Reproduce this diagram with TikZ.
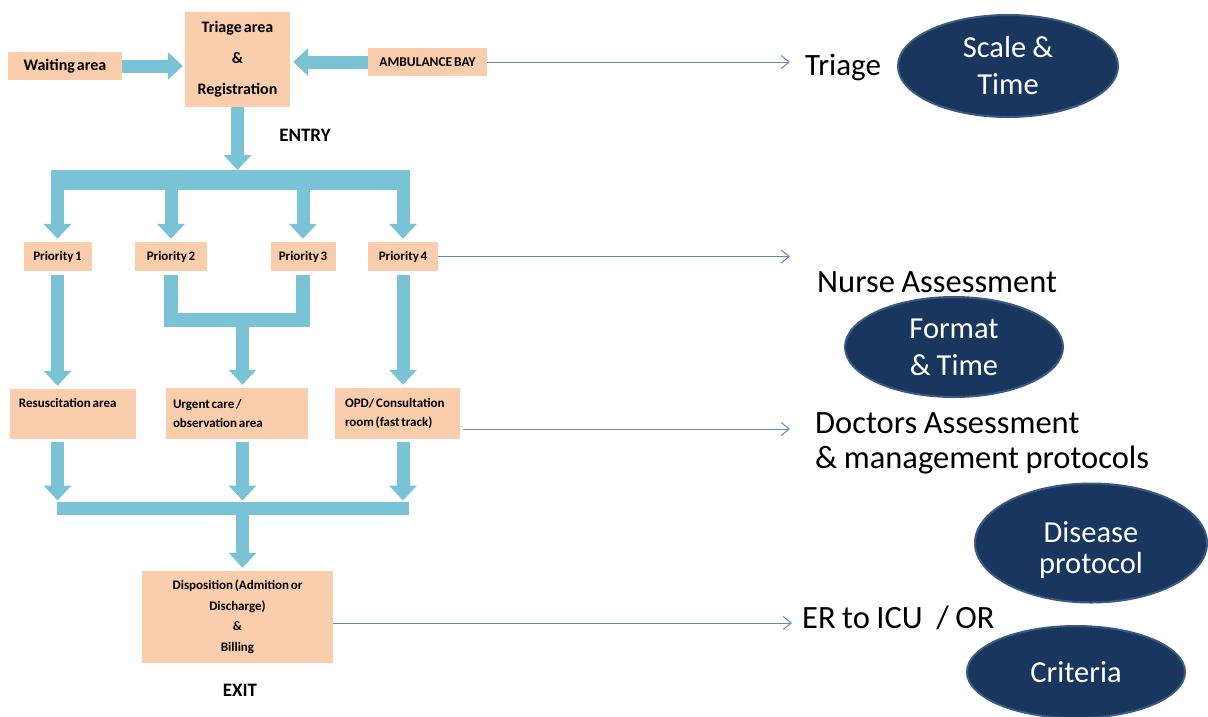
\documentclass[tikz,border=0pt]{standalone}
\usepackage{fontspec}
\setmainfont{Carlito}
\newfontfamily\boxfont{Carlito}[WordSpace=0.55]
\usetikzlibrary{arrows.meta, shapes.geometric}
\definecolor{boxcol}{RGB}{250,205,172}
\definecolor{flowcol}{RGB}{122,195,215}
\definecolor{linkcol}{RGB}{100,135,190}
\definecolor{ovalcol}{RGB}{24,54,94}
\definecolor{ovalrim}{RGB}{58,90,132}

\begin{document}
\begin{tikzpicture}[
			x=1pt, y=-1pt,
			box/.style={
				fill=boxcol,
				inner sep=0pt,
				font=\boxfont\bfseries\fontsize{13}{18.5}\selectfont,
				execute at begin node={\spaceskip=0.13em\relax}
			},
			bigbox/.style={
				box,
				font=\boxfont\bfseries\fontsize{16}{31}\selectfont
			},
			tag/.style={
				font=\bfseries\fontsize{19}{22}\selectfont
			},
			note/.style={
				inner sep=0pt,
				align=left,
				font=\fontsize{32.5}{35}\selectfont,
				execute at begin node={\spaceskip=0.2em\relax}
			},
			oval/.style={
				ellipse,
				fill=ovalcol,
				draw=ovalrim,
				line width=2pt,
				text=white,
				inner sep=0pt,
				align=center,
				font=\fontsize{30.5}{37}\selectfont,
				execute at begin node={\spaceskip=0.2em\relax}
			},
			flow/.style={
				draw=flowcol,
				line width=13pt,
				-{Triangle[width=27pt,length=15pt]}
			},
			bar/.style={
				draw=flowcol,
				line width=20pt
			},
			link/.style={
				draw=linkcol,
				line width=1pt,
				-{Straight Barb[length=8pt,width=13pt]}
			}
			]
			\useasboundingbox[fill=white] (0,0) rectangle (1208,716);
			
			% Areas
			\node[bigbox, minimum width=114pt, minimum height=28pt] (wait) at (65,66) {Waiting area};
			\node[bigbox, minimum width=105pt, minimum height=95pt, align=center] (triage) at (237.5,59.5) {Triage area\\\&\\Registration};
			\node[box, minimum width=119pt, minimum height=28pt, font=\boxfont\bfseries\fontsize{13.5}{16}\selectfont] (amb) at (427.5,62) {AMBULANCE BAY};
			\node[tag] (entry) at (305,135) {ENTRY};
			
			\node[box, minimum width=68pt, minimum height=29pt] (p1) at (57.5,256.5) {Priority 1};
			\node[box, minimum width=72pt, minimum height=29pt] (p2) at (171,256.5) {Priority 2};
			\node[box, minimum width=65pt, minimum height=29pt] (p3) at (303,256.5) {Priority 3};
			\node[box, minimum width=70pt, minimum height=29pt] (p4) at (403,256.5) {Priority 4};
			
			\node[box, text width=108pt, inner xsep=9pt, inner ysep=5pt, text height=13pt, text depth=27pt, align=left] (res) at (73,414) {Resuscitation area};
			\node[box, text width=128pt, inner xsep=7pt, minimum height=51pt, align=left] (urgent) at (237,413.5) {Urgent care /\\observation area};
			\node[box, text width=105pt, inner xsep=10pt, minimum height=51pt, align=left] (opd) at (397.5,413.5) {OPD/ Consultation\\room (fast track)};
			
			\node[box, minimum width=191pt, minimum height=92pt, align=center, font=\boxfont\bfseries\fontsize{13}{20.5}\selectfont] (disp) at (237.5,617) {Disposition (Admition or\\Discharge)\\\&\\Billing};
			\node[tag] (exit) at (240,690) {EXIT};
			
			% Protocols
			\node[note, anchor=base west, font=\fontsize{31}{35}\selectfont] (trilbl) at (805,75) {Triage};
			\node[oval, minimum width=220pt, minimum height=102pt] (scale) at (1008,66) {Scale \&\\Time};
			\node[note, anchor=base west] (nurse) at (817,292) {Nurse Assessment};
			\node[oval, minimum width=218pt, minimum height=100pt] (format) at (954,347) {Format\\\& Time};
			\node[note, anchor=north west] (doctor) at (815,412) {Doctors Assessment\\\& management protocols};
			\node[oval, minimum width=232pt, minimum height=119pt, font=\fontsize{30.5}{31}\selectfont, text height=66pt, text depth=6pt] (disease) at (1091,543) {Disease\\protocol};
			\node[note, anchor=base west] (icu) at (802,628) {ER to ICU\hspace{0.22em} / OR};
			\node[oval, minimum width=218pt, minimum height=92pt] (criteria) at (1076,672) {Criteria};
			
			\coordinate (b1w) at (51,180);
			\coordinate (b1e) at (410,180);
			\coordinate (b2) at (242.5,319.5);
			\coordinate (b3w) at (57,508.5);
			\coordinate (b3e) at (409,508.5);
			\coordinate (t1) at (790,62);
			\coordinate (t2) at (790,256.5);
			\coordinate (t3) at (790,429);
			\coordinate (t4) at (792,623);
			
			% Flow
			\draw[flow, shorten >=2pt] (wait.east) -- (triage.west |- wait.east);
			\draw[flow, shorten >=3pt] (amb.west) -- (triage.east |- amb.west);
			\draw[flow, shorten >=10pt] (triage.south) -- (triage.south |- b1w);
			\draw[bar] (b1w) -- (b1e);
			\foreach \p in {p1,p2,p3,p4}
				\draw[flow, shorten >=3pt] (\p.north |- b1w) -- (\p.north);
			
			\draw[draw=flowcol, line width=14pt] ([yshift=-4pt]p2.south) |- (b2) -| ([yshift=-4pt]p3.south);
			\draw[flow, shorten >=3pt] (b2) -- (b2 |- urgent.north);
			\draw[flow, shorten >=3pt] ([yshift=-4pt]p1.south) -- (p1.south |- res.north);
			\draw[flow, shorten >=3pt] ([yshift=-4pt]p4.south) -- (p4.south |- opd.north);
			
			\draw[flow, shorten >=8pt] ([yshift=-3pt]p1 |- res.south) -- (p1 |- b3w);
			\draw[flow, shorten >=8pt] ([yshift=-3pt]b2 |- urgent.south) -- (b2 |- b3w);
			\draw[flow, shorten >=8pt] ([yshift=-3pt]p4 |- opd.south) -- (p4 |- b3w);
			\draw[draw=flowcol, line width=13pt] (b3w) -- (b3e);
			\draw[flow, shorten >=3pt] (b2 |- b3w) -- (b2 |- disp.north);
			
			% Links
			\draw[link] (amb.east) -- (t1);
			\draw[link] (p4.east) -- (t2);
			\draw[link] ([xshift=3pt]opd.east |- t3) -- (t3);
			\draw[link] (disp.east |- t4) -- (t4);
		\end{tikzpicture}
\end{document}
